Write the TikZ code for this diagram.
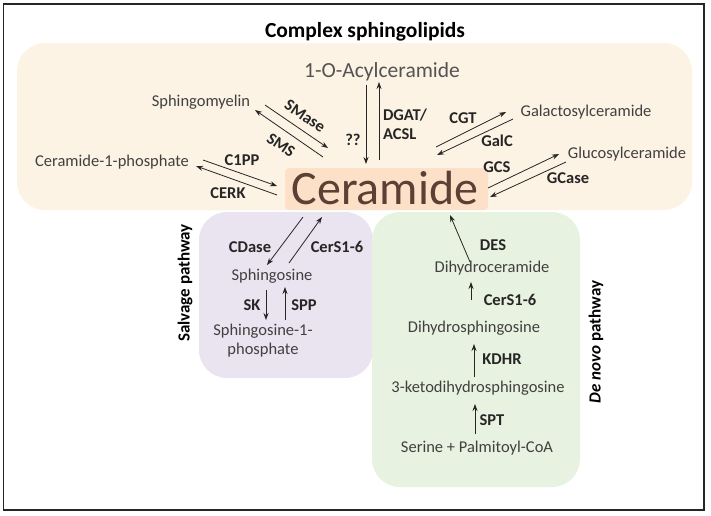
\documentclass[tikz,border=0pt]{standalone}
\usepackage{fontspec}
\setmainfont{Carlito}
\usetikzlibrary{arrows.meta}
\definecolor{orangebg}{RGB}{253,243,228}
\definecolor{cerbg}{RGB}{252,224,200}
\definecolor{cerfg}{RGB}{92,64,52}
\definecolor{purplebg}{RGB}{234,227,240}
\definecolor{greenbg}{RGB}{232,242,224}
\definecolor{txt}{RGB}{64,64,64}
\definecolor{lbl}{RGB}{38,38,38}
\tikzset{
  mol/.style={inner sep=1pt,text=txt,font=\fontsize{16.5}{19}\selectfont},
  enz/.style={inner sep=1pt,text=lbl,font=\fontsize{16.5}{19}\selectfont\bfseries},
  rxn/.style={draw=black!85,line width=0.8pt,-{Stealth[length=7pt,width=5pt]}},
  panel/.style={rounded corners=28pt,draw=none},
  pathlabel/.style={inner sep=1pt,text=black,rotate=90,font=\fontsize{17}{19}\selectfont\bfseries}
}
\begin{document}
\begin{tikzpicture}[x=1pt,y=-1pt]
\useasboundingbox (0,0) rectangle (711,515);
\draw[line width=1.6pt,black!85] (3.5,4) rectangle (704,510);
% panels
\fill[orangebg,panel] (17,43) rectangle (692,210);
\fill[purplebg,panel] (199,212) rectangle (373,378);
\fill[greenbg,panel] (372,212) rectangle (580,487);
\fill[cerbg,rounded corners=4pt] (285,168) rectangle (488,210);
% title
\node[inner sep=0pt,font=\fontsize{21.5}{24}\selectfont\bfseries] (title) at (365,32) {Complex sphingolipids};
\node[inner sep=1pt,text=txt!90,font=\fontsize{21.5}{24}\selectfont] (acyl) at (382,72) {1-O-Acylceramide};
\node[inner sep=0pt,text=cerfg,font=\fontsize{48}{50}\selectfont] (cer) at (385,188) {Ceramide};
% complex lipids
\node[mol] (sm) at (201,102) {Sphingomyelin};
\node[mol] (c1p) at (112,162) {Ceramide-1-phosphate};
\node[mol] (gal) at (586,112) {Galactosylceramide};
\node[mol] (glc) at (627,154) {Glucosylceramide};
% coordinates for arrows
\coordinate (smA1) at (265,105); \coordinate (smA2) at (328,148);
\coordinate (smB1) at (323,157); \coordinate (smB2) at (255,110);
\coordinate (cpA1) at (203,160); \coordinate (cpA2) at (277,186);
\coordinate (cpB1) at (277,195); \coordinate (cpB2) at (196,166);
\coordinate (acA1) at (366,85); \coordinate (acA2) at (366,164);
\coordinate (acB1) at (379,160); \coordinate (acB2) at (379,82);
\coordinate (gaA1) at (436,147); \coordinate (gaA2) at (506,112);
\coordinate (gaB1) at (513,119); \coordinate (gaB2) at (437,155);
\coordinate (glA1) at (488,188); \coordinate (glA2) at (559,154);
\coordinate (glB1) at (566,162); \coordinate (glB2) at (490,197);
\draw[rxn] (smA1) -- (smA2);
\draw[rxn] (smB1) -- (smB2);
\draw[rxn] (cpA1) -- (cpA2);
\draw[rxn] (cpB1) -- (cpB2);
\draw[rxn] (acA1) -- (acA2);
\draw[rxn] (acB1) -- (acB2);
\draw[rxn] (gaA1) -- (gaA2);
\draw[rxn] (gaB1) -- (gaB2);
\draw[rxn] (glA1) -- (glA2);
\draw[rxn] (glB1) -- (glB2);
% enzyme labels top
\node[enz,rotate=-34,inner sep=0pt] (smase) at (305,116) {SMase};
\node[enz,rotate=-34,inner sep=0pt] (sms) at (281,145) {SMS};
\node[enz] (c1pp) at (242,160) {C1PP};
\node[enz] (cerk) at (228,193) {CERK};
\node[enz] (qq) at (353,140) {??};
\node[enz,align=left] (dgat) at (405,124) {DGAT/\\ACSL};
\node[enz] (cgt) at (463,118) {CGT};
\node[enz] (galc) at (497,141) {GalC};
\node[enz] (gcs) at (497,167) {GCS};
\node[enz] (gcase) at (568,178) {GCase};
% salvage
\node[pathlabel] (salv) at (185,283) {Salvage pathway};
\node[mol] (sph) at (272,276) {Sphingosine};
\node[mol,align=center] (s1p) at (263,341) {Sphingosine-1-\\phosphate};
\coordinate (sA1) at (303,217); \coordinate (sA2) at (267,265);
\coordinate (sB1) at (289,263); \coordinate (sB2) at (322,217);
\coordinate (kA1) at (266,290); \coordinate (kA2) at (266,320);
\coordinate (kB1) at (285,320); \coordinate (kB2) at (285,287);
\draw[rxn] (sA1) -- (sA2);
\draw[rxn] (sB1) -- (sB2);
\draw[rxn] (kA1) -- (kA2);
\draw[rxn] (kB1) -- (kB2);
\node[enz] (cdase) at (250,247) {CDase};
\node[enz] (cers1) at (337,247) {CerS1-6};
\node[enz] (sk) at (252,305) {SK};
\node[enz] (spp) at (304,305) {SPP};
% de novo
\node[pathlabel] (denovo) at (596,342) {\textit{De novo} pathway};
\node[mol] (dhc) at (492,268) {Dihydroceramide};
\node[mol] (dhs) at (474,328) {Dihydrosphingosine};
\node[mol] (kds) at (478,388) {3-ketodihydrosphingosine};
\node[mol] (ser) at (477,448) {Serine + Palmitoyl-CoA};
\coordinate (dA1) at (470,262); \coordinate (dA2) at (450,215);
\coordinate (dB1) at (471,300); \coordinate (dB2) at (471,282);
\coordinate (dC1) at (474,377); \coordinate (dC2) at (474,344);
\coordinate (dD1) at (475,434); \coordinate (dD2) at (475,404);
\draw[rxn] (dA1) -- (dA2);
\draw[rxn] (dB1) -- (dB2);
\draw[rxn] (dC1) -- (dC2);
\draw[rxn] (dD1) -- (dD2);
\node[enz] (des) at (493,245) {DES};
\node[enz] (cers2) at (510,300) {CerS1-6};
\node[enz] (kdhr) at (502,359) {KDHR};
\node[enz] (spt) at (492,420) {SPT};
\end{tikzpicture}
\end{document}
